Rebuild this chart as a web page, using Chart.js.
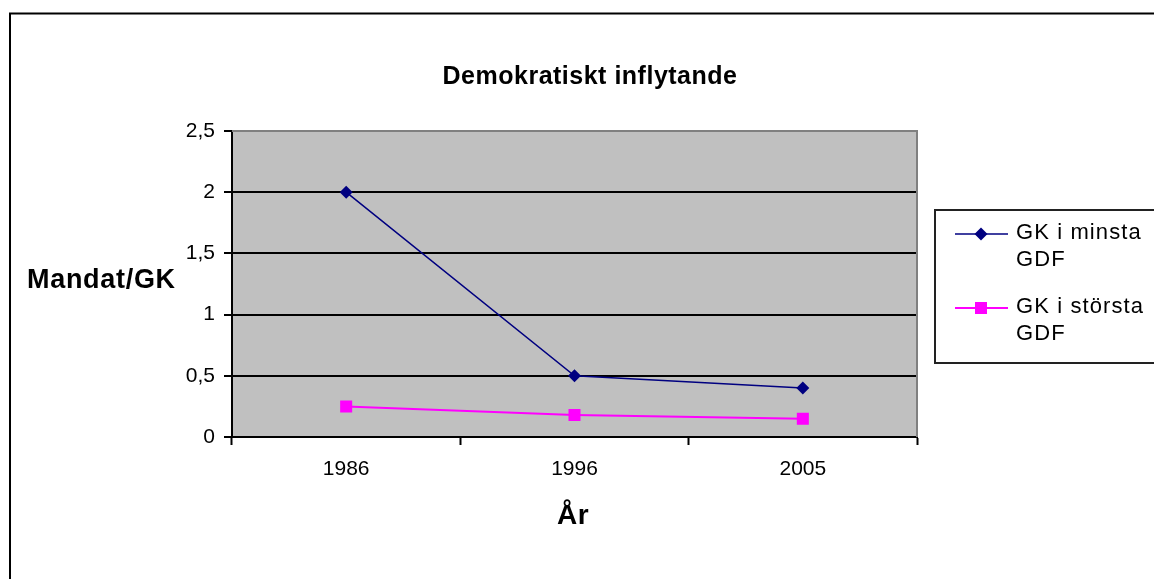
<!DOCTYPE html>
<html>
<head>
<meta charset="utf-8">
<script src="https://cdn.jsdelivr.net/npm/chart.js@4/dist/chart.umd.min.js"></script>
<style>
  html, body { margin: 0; padding: 0; background: #fff; }
</style>
</head>
<body>
<canvas id="grafico" width="1154" height="579"></canvas>
<script>
const ar = ["1986", "1996", "2005"];
const minstaGDF = [2, 0.5, 0.4];
const storstaGDF = [0.25, 0.18, 0.15];
const yTicks = [0, 0.5, 1, 1.5, 2, 2.5];

const titel = "Demokratiskt inflytande";
const yTitel = "Mandat/GK";
const xTitel = "År";
const etiketter = [["GK i minsta", "GDF"], ["GK i största", "GDF"]];

const typsnitt = "'Liberation Sans', Arial, sans-serif";

function skrivText(ctx, text, x, y, font, align, spacing) {
    ctx.save();
    ctx.font = font;
    ctx.fillStyle = "#000";
    ctx.textAlign = align;
    ctx.textBaseline = "alphabetic";
    ctx.letterSpacing = spacing + "px";
    ctx.fillText(text, x, y);
    ctx.restore();
}

function ritaMarkor(ctx, stil, x, y, r, farg) {
    ctx.save();
    ctx.fillStyle = farg;
    ctx.beginPath();
    if (stil === "rectRot") {
        ctx.moveTo(x, y - r);
        ctx.lineTo(x + r, y);
        ctx.lineTo(x, y + r);
        ctx.lineTo(x - r, y);
        ctx.closePath();
    } else {
        const s = r * Math.SQRT1_2;
        ctx.rect(x - s, y - s, 2 * s, 2 * s);
    }
    ctx.fill();
    ctx.restore();
}

const ramPlugin = {
    id: "ram",
    beforeDraw(chart) {
        const ctx = chart.ctx;
        const a = chart.chartArea;
        ctx.save();
        ctx.fillStyle = "#fff";
        ctx.fillRect(0, 0, chart.width, chart.height);
        ctx.fillStyle = "#c0c0c0";
        ctx.fillRect(a.left, a.top, a.right - a.left, a.bottom - a.top);
        ctx.restore();
    },
    beforeDatasetsDraw(chart) {
        const ctx = chart.ctx;
        const a = chart.chartArea;
        ctx.save();
        ctx.strokeStyle = "#808080";
        ctx.lineWidth = 2;
        ctx.beginPath();
        ctx.moveTo(a.left, a.top);
        ctx.lineTo(a.right, a.top);
        ctx.lineTo(a.right, a.bottom);
        ctx.stroke();
        ctx.restore();
    },
    afterDraw(chart) {
        const ctx = chart.ctx;

        // yttre ram
        ctx.save();
        ctx.strokeStyle = "#000";
        ctx.lineWidth = 2;
        ctx.strokeRect(10, 13.5, 1300, 700);
        ctx.restore();

        skrivText(ctx, titel, 590, 84, "bold 25px " + typsnitt, "center", 0.5);
        skrivText(ctx, yTitel, 27, 288, "bold 27px " + typsnitt, "left", 0.7);
        skrivText(ctx, xTitel, 573, 524, "bold 28px " + typsnitt, "center", 0.5);

        // förklaring
        ctx.save();
        ctx.strokeStyle = "#222";
        ctx.lineWidth = 2;
        ctx.strokeRect(935, 210, 260, 153);
        ctx.restore();

        const radY = [[239, 266], [313, 340]];
        chart.data.datasets.forEach((ds, i) => {
            const ly = radY[i][0] - 5;
            ctx.save();
            ctx.strokeStyle = ds.borderColor;
            ctx.lineWidth = ds.borderWidth;
            ctx.beginPath();
            ctx.moveTo(955, ly);
            ctx.lineTo(1008, ly);
            ctx.stroke();
            ctx.restore();
            ritaMarkor(ctx, ds.pointStyle, 981, ly, ds.pointRadius, ds.pointBackgroundColor);
            etiketter[i].forEach((rad, j) => {
                skrivText(ctx, rad, 1016, radY[i][j], "22px " + typsnitt, "left", 1.1);
            });
        });
    }
};

const grafico = document.getElementById("grafico");
const diagram = new Chart(grafico, {
    type: "line",
    data: {
        labels: ar,
        datasets: [{
            label: "GK i minsta GDF",
            data: minstaGDF,
            borderColor: "#000080",
            backgroundColor: "#000080",
            pointBackgroundColor: "#000080",
            pointBorderColor: "#000080",
            pointStyle: "rectRot",
            pointRadius: 6.5,
            pointBorderWidth: 0,
            borderWidth: 1.5,
            tension: 0
        }, {
            label: "GK i största GDF",
            data: storstaGDF,
            borderColor: "#ff00ff",
            backgroundColor: "#ff00ff",
            pointBackgroundColor: "#ff00ff",
            pointBorderColor: "#ff00ff",
            pointStyle: "rect",
            pointRadius: 8.5,
            pointBorderWidth: 0,
            borderWidth: 2,
            tension: 0
        }]
    },
    options: {
        responsive: false,
        animation: false,
        layout: {
            padding: { left: 0, top: 131, right: 237, bottom: 0 }
        },
        plugins: {
            legend: { display: false },
            tooltip: { enabled: false },
            title: { display: false }
        },
        scales: {
            x: {
                offset: true,
                afterFit: s => { s.height = 142; },
                grid: {
                    offset: true,
                    drawOnChartArea: false,
                    tickLength: 8,
                    tickColor: "#000",
                    tickWidth: 2
                },
                border: { color: "#000", width: 2 },
                ticks: {
                    color: "#000",
                    padding: 12,
                    font: { family: typsnitt, size: 21 }
                }
            },
            y: {
                min: yTicks[0],
                max: yTicks[yTicks.length - 1],
                afterFit: s => { s.width = 232; },
                grid: {
                    color: c => (c.tick && c.tick.value === yTicks[yTicks.length - 1]) ? "#808080" : "#000",
                    lineWidth: 2,
                    tickLength: 8,
                    tickColor: "#000",
                    tickWidth: 2
                },
                border: { color: "#000", width: 2 },
                ticks: {
                    stepSize: yTicks[1] - yTicks[0],
                    color: "#000",
                    padding: 9,
                    font: { family: typsnitt, size: 21 },
                    callback: v => String(v).replace(".", ",")
                }
            }
        }
    },
    plugins: [ramPlugin]
});
</script>
</body>
</html>
